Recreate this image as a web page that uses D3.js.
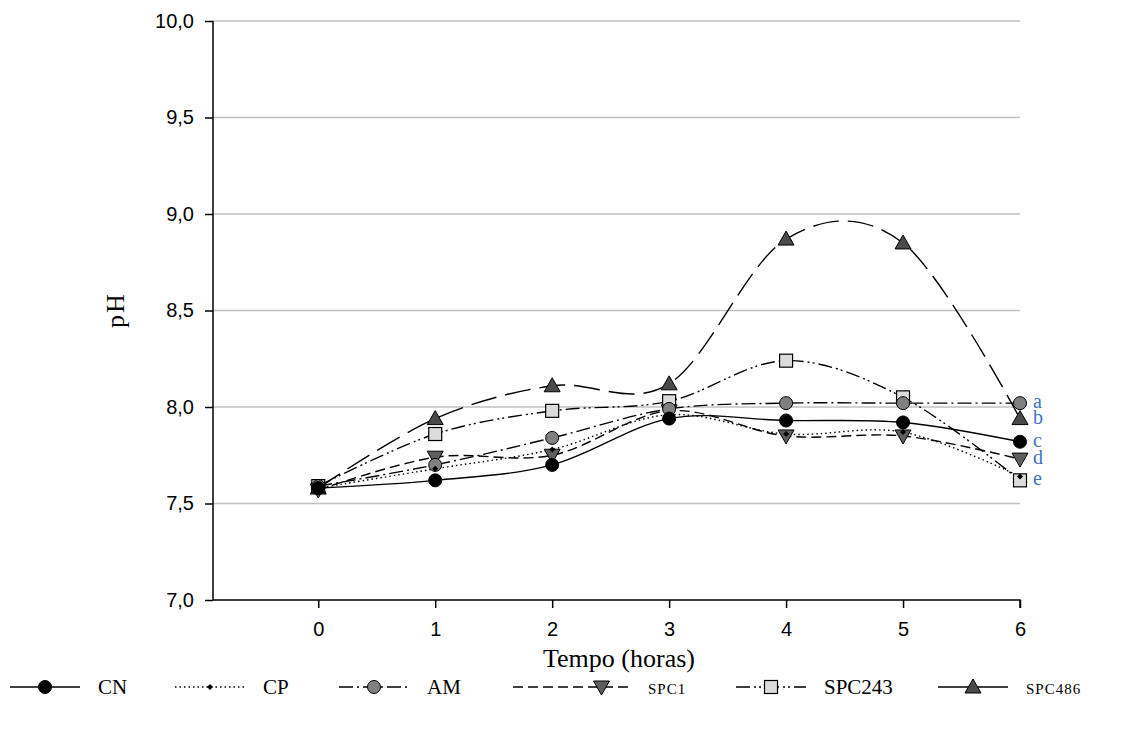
<!DOCTYPE html>
<html lang="pt">
<head>
  <meta charset="UTF-8">
  <title>pH ao longo do tempo</title>
  <script src="https://cdn.jsdelivr.net/npm/d3@7.9.0/dist/d3.min.js"></script>
  <style>
    body { margin: 0; background: #fff; }
    svg { display: block; }
    .tick text { font-family: "Liberation Sans", Arial, sans-serif; font-size: 20px; fill: #000; }
    .serif { font-family: "Liberation Serif", "Times New Roman", serif; }
  </style>
</head>
<body>
<div id="chart"></div>
<script>
  // data
  const hours = [0, 1, 2, 3, 4, 5, 6];
  const seriesNames = ["CN", "CP", "AM", "SPC1", "SPC243", "SPC486"];
  const CN     = [7.58, 7.62, 7.70, 7.94, 7.93, 7.92, 7.82];
  const CP     = [7.58, 7.68, 7.78, 7.96, 7.86, 7.87, 7.64];
  const AM     = [7.59, 7.70, 7.84, 7.99, 8.02, 8.02, 8.02];
  const SPC1   = [7.57, 7.74, 7.75, 7.98, 7.85, 7.85, 7.73];
  const SPC243 = [7.59, 7.86, 7.98, 8.03, 8.24, 8.05, 7.62];
  const SPC486 = [7.58, 7.94, 8.11, 8.12, 8.87, 8.85, 7.94];
  const yTicks = [7.0, 7.5, 8.0, 8.5, 9.0, 9.5, 10.0];
  const letters = ["a", "b", "c", "d", "e"];
  const letterSeries = ["AM", "SPC486", "CN", "SPC1", "SPC243"];

  const values = { CN, CP, AM, SPC1, SPC243, SPC486 };

  // drawing styles per series
  const style = {
    CN:     { dash: null,           marker: "circle",       fill: "#000000", size: 6.5 },
    CP:     { dash: "1.5,3",        marker: "diamond",      fill: "#000000", size: 3 },
    AM:     { dash: "14,4,2,4",     marker: "circle",       fill: "#808080", size: 6.5 },
    SPC1:   { dash: "10,5",         marker: "triangleDown", fill: "#5f5f5f", size: 8 },
    SPC243: { dash: "14,4,2,3,2,4", marker: "square",       fill: "#dcdcdc", size: 6.5 },
    SPC486: { dash: "26,9",         marker: "triangleUp",   fill: "#4a4a4a", size: 8 }
  };

  const W = 1141, H = 729;
  const svg = d3.select("#chart").append("svg").attr("width", W).attr("height", H);

  const x = d3.scaleLinear().domain([-0.9, 6]).range([213, 1020]);
  const y = d3.scaleLinear().domain([7, 10]).range([600, 21]);

  // grid
  svg.append("g").selectAll("line").data(yTicks.slice(1)).enter().append("line")
    .attr("x1", x(-0.9)).attr("x2", x(6))
    .attr("y1", d => y(d)).attr("y2", d => y(d))
    .attr("stroke", "#c0c0c0").attr("stroke-width", 1.6);

  // axes
  const fmt = d => d3.format(".1f")(d).replace(".", ",");
  const yAxis = svg.append("g").attr("transform", `translate(${x(-0.9)},0)`)
    .call(d3.axisLeft(y).tickValues(yTicks).tickFormat(fmt).tickSize(8).tickPadding(11));
  const xAxis = svg.append("g").attr("transform", `translate(0,${y(7)})`)
    .call(d3.axisBottom(x).tickValues(hours).tickFormat(d3.format("d")).tickSize(8).tickPadding(14));
  [yAxis, xAxis].forEach(a => {
    a.select(".domain").attr("stroke", "#000").attr("stroke-width", 1.5);
    a.selectAll(".tick line").attr("stroke", "#000").attr("stroke-width", 1.5);
  });
  yAxis.select(".domain").attr("d", `M0,${y(10)}V${y(7)}`);
  xAxis.select(".domain").attr("d", `M${x(-0.9)},0H${x(6)}V8`);

  // axis titles
  svg.append("text").attr("class", "serif")
    .attr("transform", `translate(124,310) rotate(-90)`)
    .attr("text-anchor", "middle").attr("font-size", 26)
    .attr("letter-spacing", 2).text("pH");
  svg.append("text").attr("class", "serif")
    .attr("x", 619).attr("y", 667).attr("text-anchor", "middle")
    .attr("font-size", 26).text("Tempo (horas)");

  // markers
  function drawMarker(g, kind, cx, cy, s, fill) {
    if (kind === "circle") {
      g.append("circle").attr("cx", cx).attr("cy", cy).attr("r", s)
        .attr("fill", fill).attr("stroke", "#000").attr("stroke-width", 1);
    } else if (kind === "diamond") {
      g.append("path").attr("d", `M${cx},${cy - s}L${cx + s},${cy}L${cx},${cy + s}L${cx - s},${cy}Z`)
        .attr("fill", fill);
    } else if (kind === "square") {
      g.append("rect").attr("x", cx - s).attr("y", cy - s).attr("width", 2 * s).attr("height", 2 * s)
        .attr("fill", fill).attr("stroke", "#000").attr("stroke-width", 1.2);
    } else if (kind === "triangleUp") {
      g.append("path").attr("d", `M${cx},${cy - s}L${cx + s},${cy + s * 0.75}L${cx - s},${cy + s * 0.75}Z`)
        .attr("fill", fill).attr("stroke", "#000").attr("stroke-width", 1);
    } else if (kind === "triangleDown") {
      g.append("path").attr("d", `M${cx},${cy + s}L${cx + s},${cy - s * 0.75}L${cx - s},${cy - s * 0.75}Z`)
        .attr("fill", fill).attr("stroke", "#000").attr("stroke-width", 1);
    }
  }

  const line = d3.line()
    .x((d, i) => x(hours[i]))
    .y(d => y(d))
    .curve(d3.curveCardinal.tension(0));

  const drawOrder = ["SPC486", "SPC243", "SPC1", "AM", "CP", "CN"];
  const lines = svg.append("g");
  drawOrder.forEach(name => {
    lines.append("path").datum(values[name])
      .attr("d", line)
      .attr("fill", "none").attr("stroke", "#000").attr("stroke-width", 1.4)
      .attr("stroke-dasharray", style[name].dash);
  });
  const marks = svg.append("g");
  drawOrder.forEach(name => {
    const st = style[name];
    values[name].forEach((v, i) => drawMarker(marks, st.marker, x(hours[i]), y(v), st.size, st.fill));
  });

  // significance letters
  svg.append("g").selectAll("text").data(letters).enter().append("text")
    .attr("class", "serif")
    .attr("x", 1033)
    .attr("y", (d, i) => y(values[letterSeries[i]][6]) + 5)
    .attr("font-size", 20).attr("fill", "#4472c4")
    .text(d => d);

  // legend
  const legX = [10, 175, 339, 513, 736, 938];
  const legend = svg.append("g");
  seriesNames.forEach((name, i) => {
    const st = style[name];
    const x0 = legX[i], ly = 687;
    const len = name === "SPC1" ? 117 : 70;
    legend.append("line").attr("x1", x0).attr("x2", x0 + len).attr("y1", ly).attr("y2", ly)
      .attr("stroke", "#000").attr("stroke-width", 1.4)
      .attr("stroke-dasharray", name === "SPC486" ? null : st.dash);
    drawMarker(legend, st.marker, x0 + len / 2 + (name === "SPC1" ? 30 : 0), ly, st.size, st.fill);
    const small = name === "SPC1" || name === "SPC486";
    legend.append("text").attr("class", "serif")
      .attr("x", x0 + len + 18).attr("y", ly + 7)
      .attr("font-size", small ? 15 : 21)
      .attr("letter-spacing", small ? 1 : 0)
      .text(name);
  });
</script>
</body>
</html>
